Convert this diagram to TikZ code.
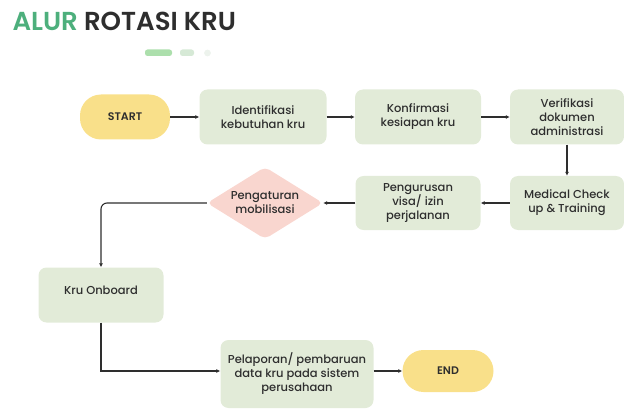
\documentclass[tikz,border=0pt]{standalone}
\usepackage{fontspec}
\setmainfont{Poppins}[UprightFont=* Medium,BoldFont=* SemiBold]
\usetikzlibrary{shapes.geometric,arrows.meta}
\definecolor{boxgreen}{HTML}{E2EBD8}
\definecolor{startyellow}{HTML}{F9E08A}
\definecolor{pinkdec}{HTML}{F9D6CF}
\definecolor{titlegreen}{HTML}{4DAF7C}
\definecolor{ink}{HTML}{2E2E2E}
\tikzset{
  box/.style={fill=boxgreen,rounded corners=8pt,align=center,text=ink,inner sep=2pt,
    font=\fontsize{11.5}{14}\selectfont},
  term/.style={fill=startyellow,rounded corners=21pt,text=ink,font=\fontsize{11}{12}\selectfont\bfseries},
  decision/.style={diamond,fill=pinkdec,align=center,text=ink,aspect=1.6,inner sep=0pt,
    rounded corners=5pt,font=\fontsize{11.5}{14}\selectfont},
  flow/.style={draw=ink,line width=1.1pt,-{Latex[length=4pt,width=4pt]}}
}
\begin{document}
\begin{tikzpicture}[x=1pt,y=-1pt]
\useasboundingbox (0,0) rectangle (624,409);
% title
\node[anchor=west,font=\fontsize{26}{28}\selectfont\bfseries] (title) at (9,21)
  {\textcolor{titlegreen}{ALUR} \textcolor{ink}{ROTASI KRU}};
\fill[green!45!gray!45,rounded corners=2.5pt] (145,49.5) rectangle (172,56);
\fill[green!30!gray!25,rounded corners=2.5pt] (180,49.5) rectangle (194,56);
\fill[green!20!gray!12] (207.5,53) circle (3.4);
% top row
\node[term,minimum width=90pt,minimum height=45pt] (start) at (125,117) {START};
\node[box,minimum width=127pt,minimum height=55pt] (ident) at (263,117) {Identifikasi\\kebutuhan kru};
\node[box,minimum width=126pt,minimum height=55pt] (konf) at (418,117) {Konfirmasi\\kesiapan kru};
\node[box,minimum width=114pt,minimum height=55pt] (verif) at (567,117) {Verifikasi\\dokumen\\administrasi};
% second row
\node[box,minimum width=114pt,minimum height=54pt] (medical) at (567,203) {Medical Check\\up \& Training};
\node[box,minimum width=125pt,minimum height=54pt] (visa) at (418,203) {Pengurusan\\visa/ izin\\perjalanan};
\node[decision,minimum width=116pt,minimum height=72pt] (mobil) at (265,203) {Pengaturan\\mobilisasi};
% bottom part
\node[box,minimum width=125pt,minimum height=55pt] (onboard) at (101,295) {Kru Onboard\\[-4pt]};
\node[box,minimum width=153pt,minimum height=68pt] (lapor) at (297,374) {Pelaporan/ pembaruan\\data kru pada sistem\\perusahaan};
\node[term,minimum width=91pt,minimum height=42pt] (end) at (448,371) {END};
% connectors
\draw[flow] (start) -- (ident);
\draw[flow] (ident) -- (konf);
\draw[flow] (konf) -- (verif);
\draw[flow] (verif) -- (medical);
\draw[flow] (medical) -- (visa);
\draw[flow] (visa) -- (mobil);
\draw[flow,rounded corners=6pt] (mobil.west) -| (onboard.north);
\draw[flow] (onboard.south) |- (lapor.west |- end.west);
\draw[flow] (lapor.east |- end.west) -- (end.west);
\end{tikzpicture}
\end{document}
